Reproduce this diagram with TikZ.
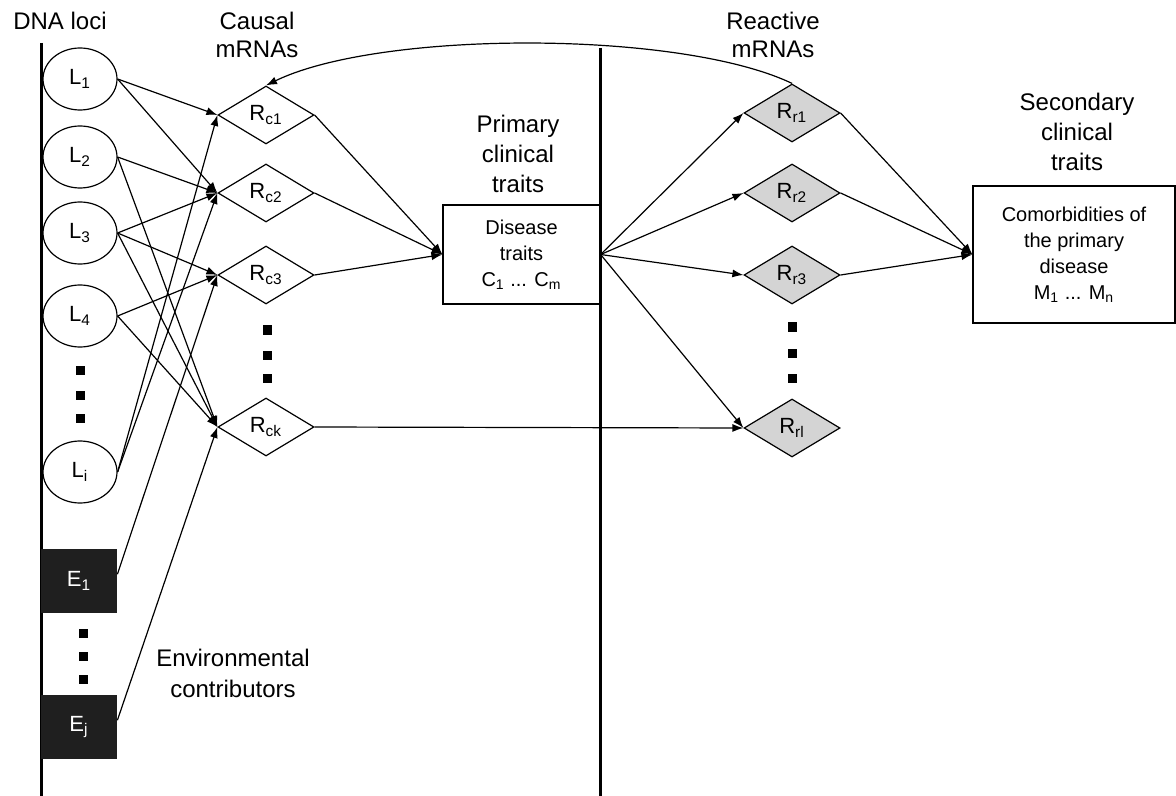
\documentclass[tikz,border=0pt]{standalone}
\usepackage{fontspec}
\setmainfont{Liberation Sans}
\usetikzlibrary{shapes.geometric}
\usetikzlibrary{arrows.meta}

\begin{document}
\begin{tikzpicture}[x=0.5pt, y=-0.5pt,
        every node/.style={align=center, font=\fontsize{12}{14}\selectfont},
        locus/.style={ellipse, draw, line width=0.6pt, minimum width=37pt, minimum height=31pt, inner sep=0pt, font=\fontsize{11}{12}\selectfont},
        envbox/.style={rectangle, fill=black!88, text=white, minimum width=38pt, minimum height=32pt, inner sep=0pt, font=\fontsize{11}{12}\selectfont},
        causal/.style={diamond, draw, fill=white, line width=0.6pt, aspect=1.7, minimum width=48pt, minimum height=29pt, inner sep=0pt, font=\fontsize{11}{12}\selectfont},
        reactive/.style={causal, fill=black!17},
        trait/.style={rectangle, draw, line width=0.6pt, inner sep=0pt, font=\fontsize{10}{13}\selectfont},
        link/.style={-{Latex[length=5.5pt,width=4pt]}, line width=0.6pt}
    ]
    \useasboundingbox (0,0) rectangle (1176,796);

    % the two axes
    \draw[line width=1.5pt] (41,43) -- (41,796);
    \draw[line width=1.5pt] (600,48) -- (600,796);

    % headings
    \node (dnalbl) at (60,21) {DNA loci};
    \node (causallbl) at (257,35) {Causal\\mRNAs};
    \node (reactlbl) at (773,35) {Reactive\\mRNAs};
    \node[font=\fontsize{12}{15}\selectfont] (primlbl) at (518,154) {Primary\\clinical\\traits};
    \node[font=\fontsize{12}{15}\selectfont] (seclbl) at (1077,132) {Secondary\\clinical\\traits};
    \node[font=\fontsize{12}{15.5}\selectfont] (envlbl) at (233,673) {Environmental\\contributors};

    % DNA loci
    \node[locus] (l1) at (80,79) {L\textsubscript{1}};
    \node[locus] (l2) at (80,157) {L\textsubscript{2}};
    \node[locus] (l3) at (80,233) {L\textsubscript{3}};
    \node[locus] (l4) at (80,316) {L\textsubscript{4}};
    \node[locus] (li) at (80,472) {L\textsubscript{i}};

    % environment
    \node[envbox] (e1) at (79,581) {E\textsubscript{1}};
    \node[envbox] (ej) at (79,727) {E\textsubscript{j}};

    % causal mRNAs
    \node[causal] (rc1) at (266,115) {R\textsubscript{c1}};
    \node[causal] (rc2) at (266,193) {R\textsubscript{c2}};
    \node[causal] (rc3) at (266,275) {R\textsubscript{c3}};
    \node[causal] (rck) at (266,427) {R\textsubscript{ck}};

    % reactive mRNAs
    \node[reactive] (rr1) at (792,113) {R\textsubscript{r1}};
    \node[reactive] (rr2) at (792,193) {R\textsubscript{r2}};
    \node[reactive] (rr3) at (792,275) {R\textsubscript{r3}};
    \node[reactive] (rrl) at (792,428) {R\textsubscript{rl}};

    % traits
    \node[trait, minimum width=78.5pt, minimum height=49.5pt] (disease) at (521.5,254.5)
        {Disease\\traits\\C\textsubscript{1} ... C\textsubscript{m}};
    \node[trait, minimum width=101pt, minimum height=68.5pt] (comorb) at (1074,254.5)
        {Comorbidities of\\the primary\\disease\\M\textsubscript{1} ... M\textsubscript{n}};

    % dots
    \foreach \y in {370,395,418} \fill (80,\y) +(-4.5,-4.5) rectangle +(4.5,4.5);
    \foreach \y in {330,355,378} \fill (267,\y) +(-4.5,-4.5) rectangle +(4.5,4.5);
    \foreach \y in {327,353,378} \fill (792,\y) +(-4.5,-4.5) rectangle +(4.5,4.5);
    \foreach \y in {633,656,679} \fill (83,\y) +(-4.5,-4.5) rectangle +(4.5,4.5);

    % loci and environment to causal mRNAs
    \foreach \a/\b in {l1/rc1, l1/rc2, l2/rc2, l2/rck, l3/rc2, l3/rc3, l3/rck,
                       l4/rc3, l4/rck, li/rc1, li/rc2}
        \draw[link] (\a.east) -- (\b.west);
    \draw[link] (e1.10) -- (rc3.west);
    \draw[link] (ej.10) -- (rck.west);

    % causal mRNAs to primary traits
    \foreach \r in {rc1,rc2,rc3}
        \draw[link] (\r.east) -- (disease.west);
    \draw[link] (rck.east) -- (rrl.west);

    % primary traits to reactive mRNAs
    \foreach \r in {rr1,rr2,rr3,rrl}
        \draw[link] (disease.east) -- (\r.west);

    % reactive mRNAs to secondary traits
    \foreach \r in {rr1,rr2,rr3}
        \draw[link] (\r.east) -- (comorb.west);

    % feedback
    \draw[link] (rr1.north) .. controls (680,30) and (380,30) .. (rc1.north);
\end{tikzpicture}
\end{document}
